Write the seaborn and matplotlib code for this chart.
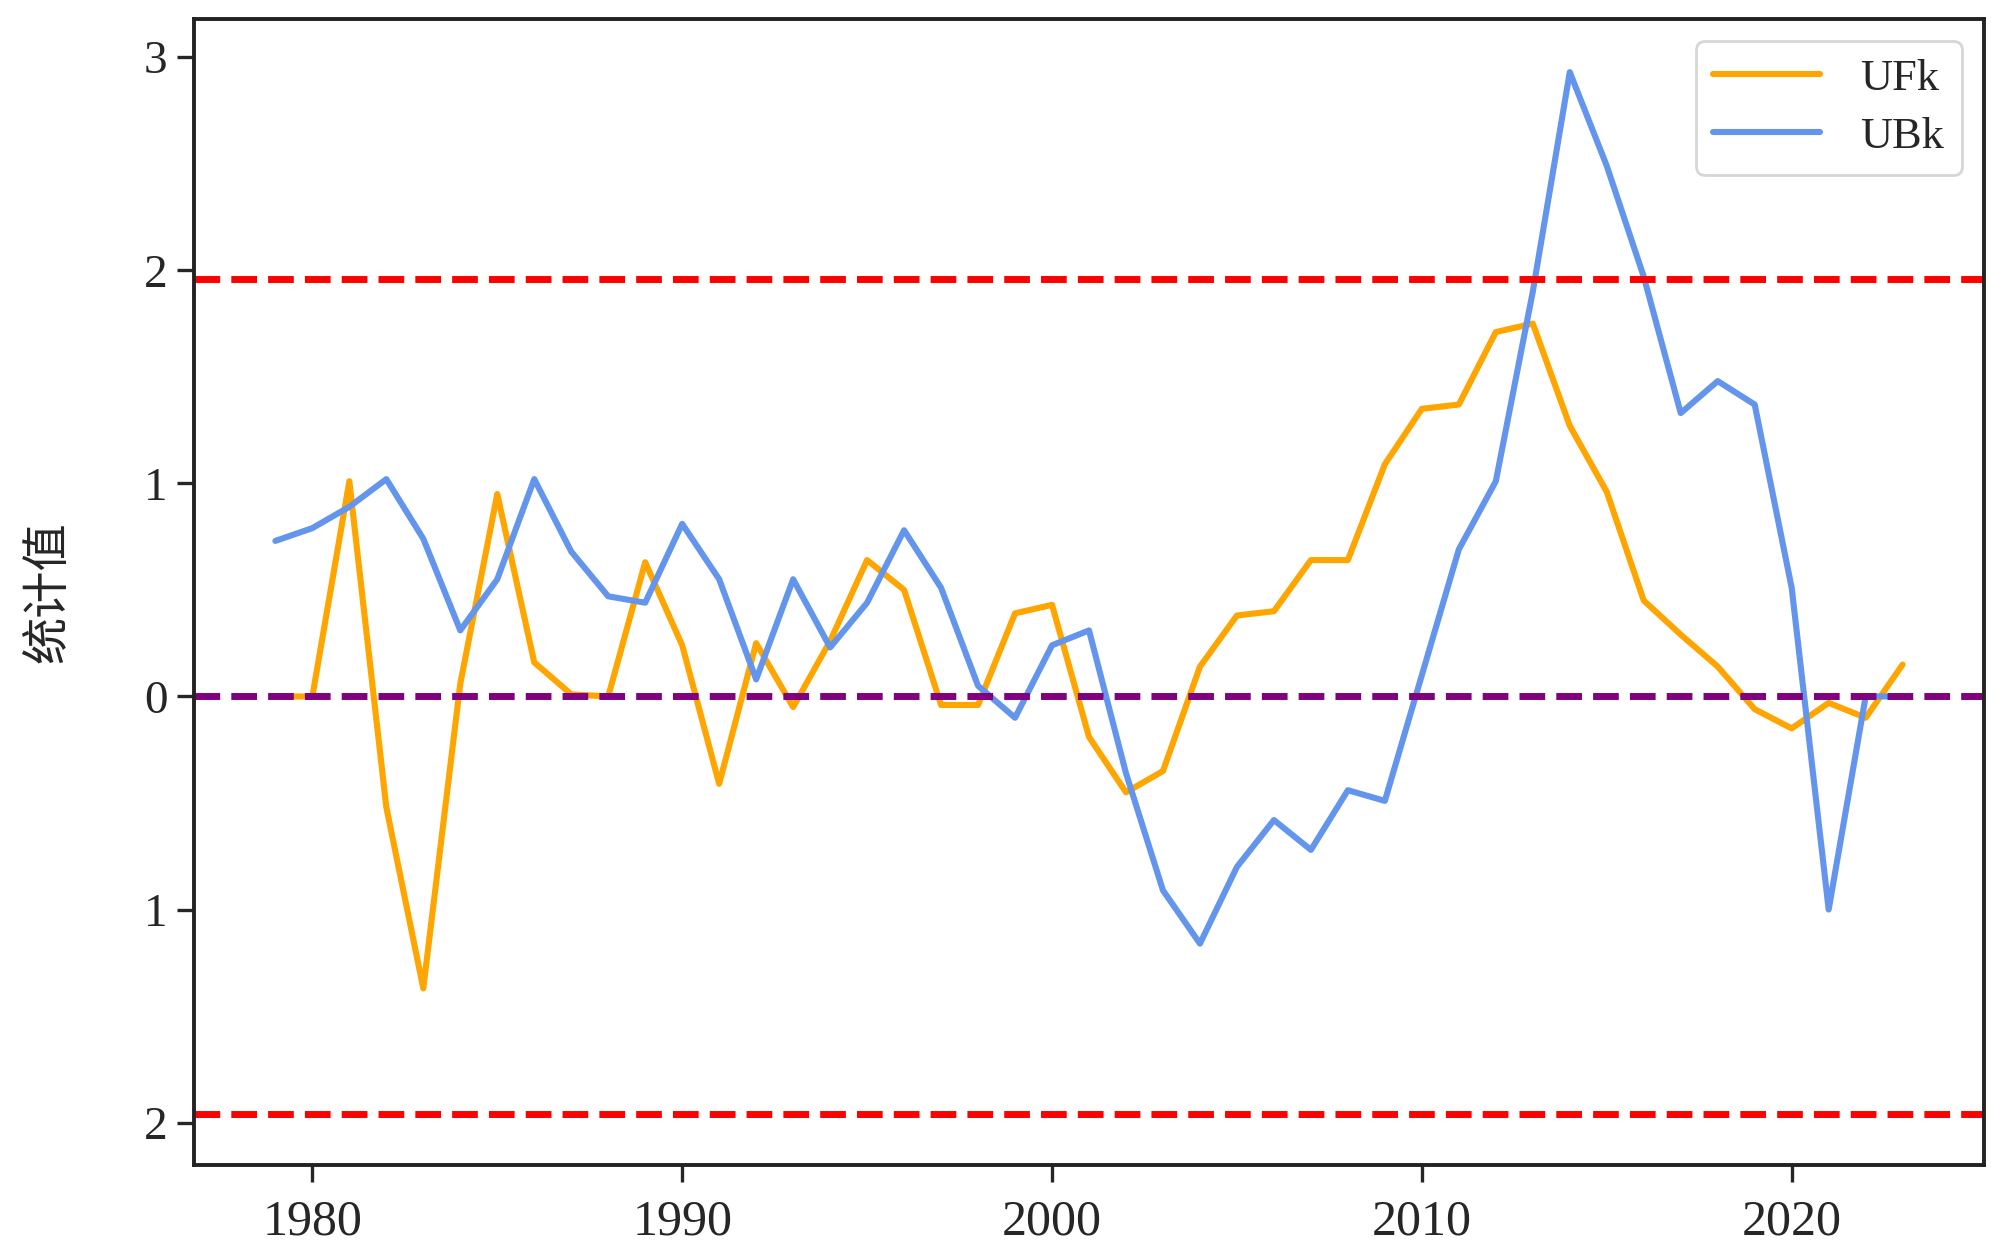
import numpy as np
import pandas as pd
import matplotlib
matplotlib.use("Agg")
import matplotlib.pyplot as plt
import seaborn as sns

# Mann-Kendall sequences
years = list(range(1979, 2024))
ufk = [0.0, 0.0, 1.01, -0.52, -1.37, 0.06, 0.95, 0.16, 0.01, 0.0,
       0.63, 0.24, -0.41, 0.25, -0.05, 0.26, 0.64, 0.50, -0.04, -0.04,
       0.39, 0.43, -0.19, -0.45, -0.35, 0.14, 0.38, 0.40, 0.64, 0.64,
       1.09, 1.35, 1.37, 1.71, 1.75, 1.27, 0.96, 0.45, 0.29, 0.14,
       -0.06, -0.15, -0.03, -0.10, 0.15]
ubk = [0.73, 0.79, 0.89, 1.02, 0.74, 0.31, 0.55, 1.02, 0.68, 0.47,
       0.44, 0.81, 0.55, 0.08, 0.55, 0.23, 0.44, 0.78, 0.51, 0.05,
       -0.10, 0.24, 0.31, -0.36, -0.91, -1.16, -0.80, -0.58, -0.72, -0.44,
       -0.49, 0.10, 0.69, 1.01, 1.90, 2.93, 2.49, 1.97, 1.33, 1.48,
       1.37, 0.51, -1.00, 0.0, 0.0]
crit = 1.96
ytick_vals = [-2, -1, 0, 1, 2, 3]
ytick_text = ["2", "1", "0", "1", "2", "3"]

df = pd.DataFrame({"year": years, "UFk": ufk, "UBk": ubk})
long = df.melt(id_vars="year", var_name="series", value_name="value")

sns.set_style("ticks")
plt.rcParams["font.family"] = ["Liberation Serif", "Noto Sans CJK SC"]
plt.rcParams["axes.unicode_minus"] = False

fig = plt.figure(figsize=(10, 6.285), dpi=200)
ax = fig.add_axes([0.097, 0.073, 0.895, 0.912])

sns.lineplot(data=long, x="year", y="value", hue="series",
             palette={"UFk": "orange", "UBk": "cornflowerblue"},
             linewidth=2.2, ax=ax)

ax.axhline(crit, color="red", linestyle="--", linewidth=2.5)
ax.axhline(-crit, color="red", linestyle="--", linewidth=2.5)
ax.axhline(0, color="purple", linestyle="--", linewidth=2.5)

ax.set_xlim(1976.8, 2025.2)
ax.set_ylim(-2.2, 3.18)
ax.set_xticks([1980, 1990, 2000, 2010, 2020])
ax.set_yticks(ytick_vals)
ax.set_yticklabels(ytick_text)
ax.tick_params(labelsize=17, length=6, width=1.2)
ax.tick_params(axis="x", pad=6, labelsize=18)
for s in ax.spines.values():
    s.set_linewidth(1.4)
    s.set_color("#222222")

ax.set_xlabel("")
ax.set_ylabel("统计值", fontsize=17, labelpad=26)

ax.legend(title=None, loc="upper right", fontsize=16, handlelength=2.4,
          labelspacing=0.4, handletextpad=0.9, frameon=True, fancybox=True)

fig.savefig("out.png", dpi=200)
